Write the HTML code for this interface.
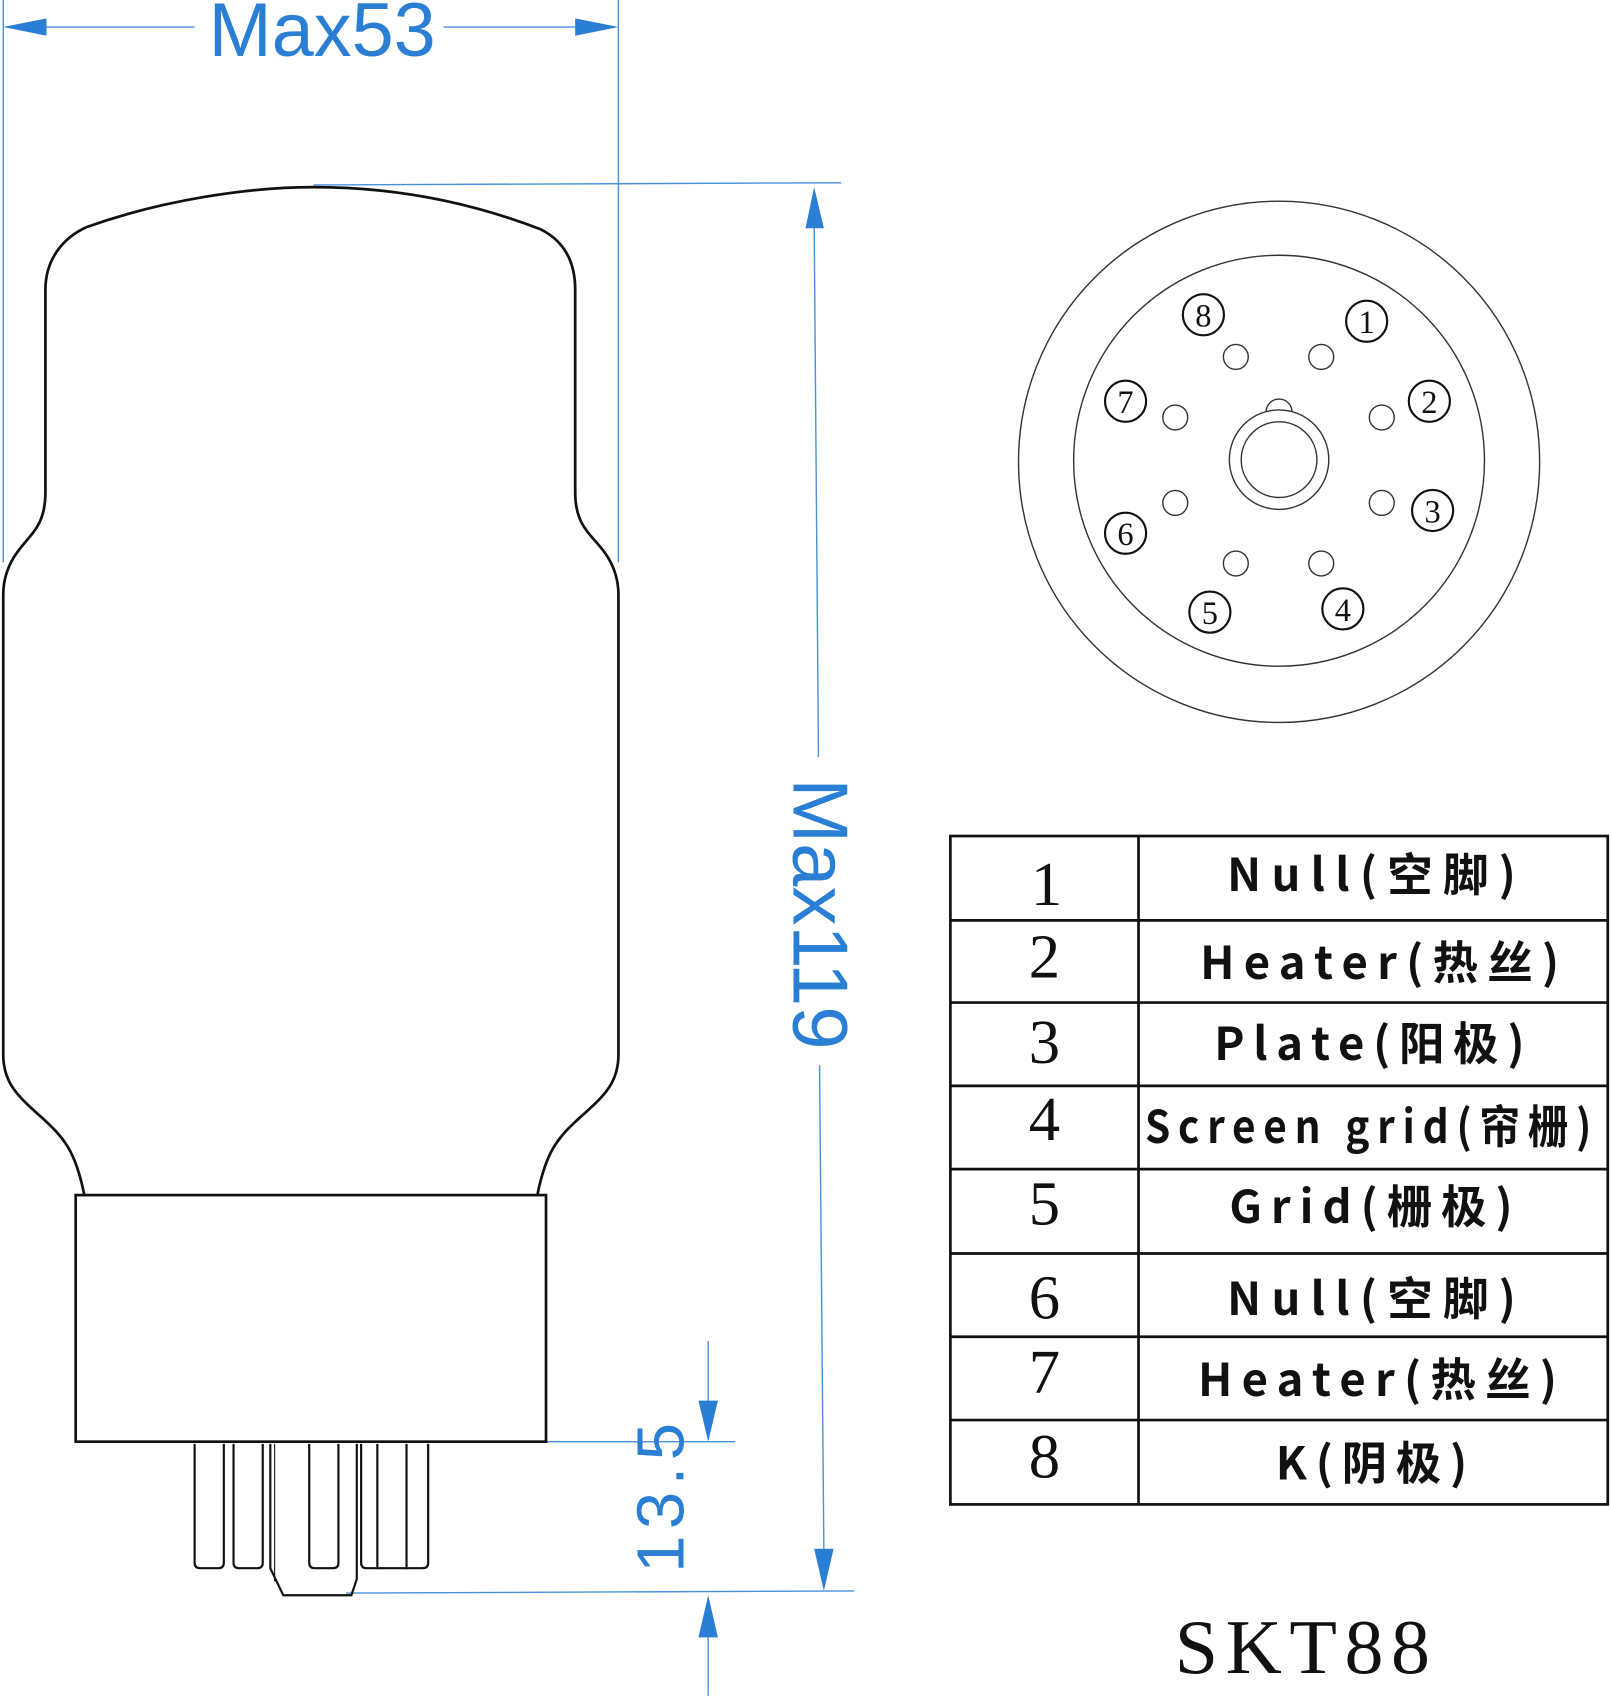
<!DOCTYPE html>
<html><head><meta charset="utf-8"><style>
html,body{margin:0;padding:0;background:#fff;}
svg{display:block;}
.tb{font-family:"WenQuanYi Zen Hei","Noto Sans CJK SC","Liberation Sans",sans-serif;font-size:42px;font-weight:bold;fill:#111;letter-spacing:8px;}
.num{font-family:"Liberation Serif",serif;font-size:58px;fill:#111;}
.cn{font-family:"Liberation Serif",serif;font-size:30px;fill:#111;}
</style></head><body>
<svg width="1611" height="1698" viewBox="0 0 1490 1570" preserveAspectRatio="none" xmlns="http://www.w3.org/2000/svg">
<g stroke="#4a90dc" stroke-width="1.3" fill="none">
<line x1="3" y1="0" x2="3" y2="520"/>
<line x1="572" y1="0" x2="572" y2="520"/>
<line x1="40" y1="25" x2="180" y2="25"/>
<line x1="410" y1="25" x2="535" y2="25"/>
<line x1="290" y1="171" x2="778" y2="169"/>
<line x1="753" y1="205" x2="757" y2="700"/>
<line x1="758" y1="985" x2="762" y2="1435"/>
<line x1="505" y1="1333" x2="680" y2="1333"/>
<line x1="320" y1="1473" x2="790" y2="1471"/>
<line x1="655" y1="1240" x2="655" y2="1300"/>
<line x1="655" y1="1510" x2="655" y2="1568"/>
</g>
<g fill="#2a7fd4">
<polygon points="3,25 43,17 43,33"/>
<polygon points="572,25 532,17 532,33"/>
<polygon points="753,173 745,211 762,211"/>
<polygon points="762,1471 753,1432 771,1432"/>
<polygon points="655,1333 646,1295 664,1295"/>
<polygon points="655,1475 646,1514 664,1514"/>
</g>
<g font-family="Liberation Sans, sans-serif" fill="#2a7fd4">
<text x="298" y="52" font-size="70" text-anchor="middle">Max53</text>
<text transform="translate(734,845) rotate(90)" font-size="72" text-anchor="middle">Max119</text>
<text transform="translate(632,1382) rotate(-90)" font-size="62" text-anchor="middle" letter-spacing="6">13.5</text>
</g>
<g stroke="#111" stroke-width="2.5" fill="none">
<path d="M80,210 C150,185 230,173 290,173 C360,173 430,185 500,212 C520,222 532,240 532,268 L532,455 C532,490 550,495 562,515 C570,528 572,540 572,550 L572,975 C572,1000 560,1012 540,1030 C515,1052 505,1065 497,1105"/>
<path d="M80,210 C58,220 42,240 42,268 L42,455 C42,490 25,495 13,515 C5,528 3,540 3,550 L3,975 C3,1000 15,1012 35,1030 C60,1052 70,1065 78,1105"/>
<rect x="70" y="1105" width="435" height="228"/>
</g>
<g stroke="#111" stroke-width="2" fill="none">
<path d="M180,1335 V1445 Q180,1450 185,1450 H202 Q207,1450 207,1445 V1335"/>
<path d="M216,1335 V1445 Q216,1450 221,1450 H238 Q243,1450 243,1445 V1335"/>
<path d="M286,1335 V1445 Q286,1450 291,1450 H308 Q313,1450 313,1445 V1335"/>
<path d="M334,1335 V1445 Q334,1450 339,1450 H349 V1335"/>
<path d="M349,1450 H376 V1335"/>
<path d="M376,1450 H391 Q396,1450 396,1445 V1335"/>
<path d="M250,1335 V1450 L262,1475 H325 L330,1460 V1335"/>
<line x1="254" y1="1335" x2="254" y2="1462" stroke-width="1"/>
</g>
<g stroke="#333" stroke-width="1.3" fill="none">
<circle cx="1183" cy="427" r="241"/>
<circle cx="1183" cy="426" r="190"/>
<circle cx="1183" cy="425" r="46"/>
<circle cx="1183" cy="425" r="35"/>
<path d="M1171,381 A12,12 0 0 1 1195,381"/>
<circle cx="1143" cy="330" r="11.5"/><circle cx="1222" cy="330" r="11.5"/>
<circle cx="1087" cy="386" r="11.5"/><circle cx="1278" cy="386" r="11.5"/>
<circle cx="1087" cy="465" r="11.5"/><circle cx="1278" cy="465" r="11.5"/>
<circle cx="1143" cy="521" r="11.5"/><circle cx="1222" cy="521" r="11.5"/>
</g>
<g stroke="#111" stroke-width="2" fill="none">
<circle cx="1113" cy="291" r="19"/><circle cx="1264" cy="297" r="19"/>
<circle cx="1041" cy="371" r="19"/><circle cx="1322" cy="371" r="19"/>
<circle cx="1041" cy="493" r="19"/><circle cx="1325" cy="472" r="19"/>
<circle cx="1119" cy="566" r="19"/><circle cx="1242" cy="563" r="19"/>
</g>
<g class="cn" text-anchor="middle">
<text x="1113" y="302">8</text><text x="1264" y="308">1</text>
<text x="1041" y="382">7</text><text x="1322" y="382">2</text>
<text x="1041" y="504">6</text><text x="1325" y="483">3</text>
<text x="1119" y="577">5</text><text x="1242" y="574">4</text>
</g>
<g stroke="#111" stroke-width="2.5" fill="none">
<rect x="879" y="773" width="608" height="618"/>
<line x1="1053" y1="773" x2="1053" y2="1391"/>
<line x1="879" y1="851" x2="1487" y2="851"/>
<line x1="879" y1="927" x2="1487" y2="927"/>
<line x1="879" y1="1004" x2="1487" y2="1004"/>
<line x1="879" y1="1081" x2="1487" y2="1081"/>
<line x1="879" y1="1159" x2="1487" y2="1159"/>
<line x1="879" y1="1236" x2="1487" y2="1236"/>
<line x1="879" y1="1313" x2="1487" y2="1313"/>
</g>
<g class="num" text-anchor="middle">
<text x="968" y="837">1</text><text x="966" y="904">2</text>
<text x="966" y="983">3</text><text x="966" y="1054">4</text>
<text x="966" y="1132">5</text><text x="966" y="1219">6</text>
<text x="966" y="1288">7</text><text x="966" y="1366">8</text>
</g>
<g class="tb">
<text x="1135" y="824" textLength="275">Null(空脚)</text>
<text x="1110" y="905" textLength="340">Heater(热丝)</text>
<text x="1123" y="980" textLength="295">Plate(阳极)</text>
<text x="1059" y="1057" textLength="420" lengthAdjust="spacingAndGlyphs">Screen grid(帘栅)</text>
<text x="1137" y="1131" textLength="270">Grid(栅极)</text>
<text x="1135" y="1216" textLength="275">Null(空脚)</text>
<text x="1108" y="1291" textLength="340">Heater(热丝)</text>
<text x="1180" y="1368" textLength="185">K(阴极)</text>
</g>
<text x="1208" y="1547" text-anchor="middle" font-family="Liberation Serif, serif" font-size="72" letter-spacing="7" fill="#111">SKT88</text>
</svg>
</body></html>
